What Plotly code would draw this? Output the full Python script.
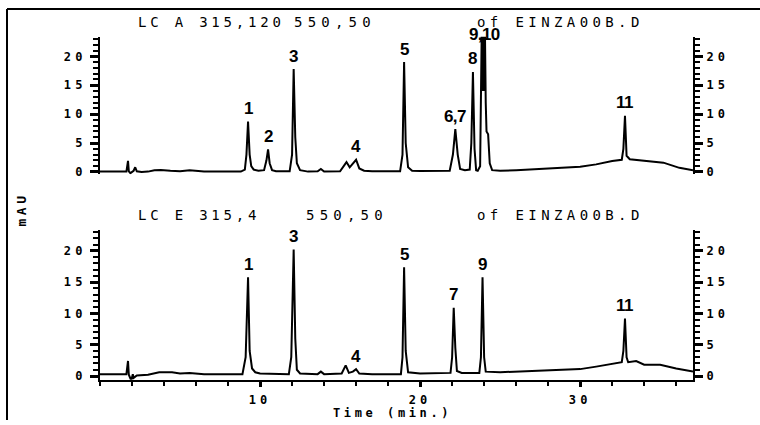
import plotly.graph_objects as go

# ---- chromatogram A (315 nm) : time [min], absorbance [mAU] ----
time_a = [0, 1.65, 1.75, 1.8, 1.9, 2.1, 2.2, 2.3, 2.6, 3.0, 3.4, 3.8, 4.4, 5.0, 5.6, 6.0, 6.5,
          8.8, 9.05, 9.15, 9.25, 9.35, 9.45, 9.6, 9.9, 10.25, 10.4, 10.5, 10.6, 10.75, 11.0,
          11.85, 12.0, 12.1, 12.2, 12.3, 12.5, 13.0, 13.6, 13.8, 14.0, 15.0, 15.25, 15.4, 15.6,
          15.8, 16.0, 16.2, 16.5, 17.0, 18.75, 18.9, 19.0, 19.1, 19.25, 19.5, 20.0, 21.85, 22.05,
          22.2, 22.35, 22.5, 22.8, 23.1, 23.2, 23.3, 23.4, 23.5, 23.6, 23.75, 23.85, 23.9, 23.95,
          24.0, 24.05, 24.1, 24.15, 24.25, 24.35, 24.5, 25.0, 26.0, 28.0, 30.0, 31.0, 32.0, 32.6,
          32.7, 32.8, 32.9, 33.1, 34.0, 34.6, 35.2, 36.2, 37.05]
mau_a = [0.05, 0.05, 1.9, 0.1, -0.2, 0.2, 0.8, 0.1, 0.0, 0.05, 0.3, 0.35, 0.2, 0.1, 0.3, 0.15, 0.05,
         0.05, 0.4, 3.0, 8.7, 3.0, 1.0, 0.4, 0.2, 0.3, 2.0, 3.9, 1.5, 0.3, 0.1,
         0.1, 3.0, 17.8, 6.0, 1.5, 0.3, 0.05, 0.1, 0.5, 0.05, 0.1, 1.2, 1.7, 0.8,
         1.5, 2.1, 0.6, 0.2, 0.1, 0.1, 3.0, 19.0, 5.0, 0.8, 0.2, 0.15, 0.2, 3.0,
         7.4, 3.0, 0.5, 0.3, 0.4, 5.0, 17.3, 4.0, 0.3, 0.2, 1.0, 24.5, 14.0, 24.5,
         14.0, 24.5, 12.0, 7.0, 6.5, 1.5, 0.3, 0.2, 0.3, 0.6, 0.9, 1.3, 1.9, 2.1,
         4.0, 9.7, 2.8, 2.2, 1.9, 1.7, 1.6, 0.7, 0.3]

# ---- chromatogram E (315 nm) ----
time_e = [0, 1.65, 1.75, 1.8, 1.95, 2.05, 2.1, 2.3, 3.0, 3.7, 4.5, 5.0, 5.6, 6.5,
          8.9, 9.1, 9.25, 9.35, 9.5, 9.7, 10.0, 11.8, 11.95, 12.1, 12.2, 12.3, 12.5,
          13.6, 13.8, 14.0, 15.1, 15.35, 15.55, 15.8, 16.0, 16.2, 17.0, 18.8, 18.9,
          19.0, 19.1, 19.25, 20.0, 21.9, 22.0, 22.1, 22.2, 22.3, 22.6, 23.7, 23.8,
          23.9, 24.0, 24.1, 25.0, 27.0, 28.5, 30.0, 31.0, 32.0, 32.6, 32.7, 32.8,
          32.9, 33.0, 33.5, 34.0, 35.0, 36.0, 37.05]
mau_e = [0.3, 0.3, 2.4, 0.2, -0.7, 0.3, -0.3, 0.1, 0.2, 0.6, 0.6, 0.4, 0.5, 0.3,
         0.3, 3.0, 15.8, 4.0, 1.2, 0.6, 0.4, 0.3, 3.0, 20.2, 6.0, 1.0, 0.4,
         0.3, 0.7, 0.3, 0.4, 1.7, 0.5, 0.7, 1.1, 0.4, 0.3, 0.3, 3.0,
         17.4, 4.0, 0.6, 0.4, 0.5, 3.0, 10.9, 4.5, 0.8, 0.5, 0.5, 3.0,
         15.8, 3.0, 0.7, 0.6, 0.8, 1.0, 1.1, 1.5, 1.9, 2.2, 4.0, 9.2,
         3.0, 2.2, 2.4, 1.8, 1.8, 1.2, 0.7]

# ---- peak numbering ----
peaks_a = ["1", "2", "3", "4", "5", "6,7", "8", "9,10", "11"]
peak_t_a = [9.25, 10.5, 12.1, 16.0, 19.0, 22.2, 23.3, 24.0, 32.8]
peaks_e = ["1", "3", "4", "5", "7", "9", "11"]
peak_t_e = [9.25, 12.1, 16.0, 19.0, 22.1, 23.9, 32.8]

# ---- axis ticks, labels and headers ----
y_ticks = [0, 5, 10, 15, 20]
y_minor = list(range(0, 24))
x_ticks = [10, 20, 30]
x_minor = list(range(0, 38, 2))
header_a = ["LC A 315,120", "550,50", "of EINZA00B.D"]
header_e = ["LC E 315,4", "550,50", "of EINZA00B.D"]

W, H = 760, 425
X_RANGE = [0, 37.05]
YA_RANGE = [-0.4, 23.4]
YE_RANGE = [-0.6, 23.3]
MONO = "DejaVu Sans Mono, monospace"
NUMFONT = "Liberation Sans Narrow, Liberation Sans, Arial, sans-serif"


def spaced(s, px):
    return f'<span style="letter-spacing:{px}px">{s}</span>'


def px_x(px):
    return px / W


def px_y(px):
    return 1 - px / H


def labelled(ticks, majors):
    # every tick gets a mark, only the major ones get a label
    return [spaced(f"<b>{v}</b>", 4.2) if v in majors else "" for v in ticks]


fig = go.Figure()
line = dict(color="black", width=2)
fig.add_trace(go.Scatter(x=time_a, y=mau_a, mode="lines", line=line, xaxis="x", yaxis="y",
                         showlegend=False, hoverinfo="skip"))
fig.add_trace(go.Scatter(x=time_e, y=mau_e, mode="lines", line=line, xaxis="x2", yaxis="y3",
                         showlegend=False, hoverinfo="skip"))
# empty traces so the mirror / major-tick overlay axes are instantiated
for xa, ya in (("x", "y2"), ("x2", "y4"), ("x", "y5"), ("x", "y6"), ("x2", "y7"), ("x2", "y8"),
               ("x3", "y3")):
    fig.add_trace(go.Scatter(x=[], y=[], xaxis=xa, yaxis=ya, showlegend=False,
                             hoverinfo="skip"))

x_dom = [px_x(100), px_x(693)]
ya_dom = [0.5852, 0.9127]
ye_dom = [0.0958, 0.4518]

tickfont = dict(family=MONO, size=12, color="black")


def base_y(dom, rng, anchor, side="left", overlay=None):
    d = dict(domain=dom, range=rng, anchor=anchor, side=side, showline=True, linewidth=2,
             linecolor="black", ticks="outside", ticklen=5, tickwidth=2, tickcolor="black",
             tickmode="array", tickvals=y_minor, ticktext=labelled(y_minor, y_ticks),
             ticklabelstandoff=4, tickfont=tickfont,
             showgrid=False, zeroline=False)
    if overlay:
        d["overlaying"] = overlay
    return d


def major_y(dom, rng, anchor, side, overlay):
    return dict(domain=dom, range=rng, anchor=anchor, side=side, overlaying=overlay,
                showline=False, ticks="outside", ticklen=9, tickwidth=2.5, tickcolor="black",
                tickmode="array", tickvals=y_ticks, showticklabels=False,
                showgrid=False, zeroline=False)


fig.update_layout(
    width=W, height=H, margin=dict(l=0, r=0, t=0, b=0),
    paper_bgcolor="white", plot_bgcolor="white",
    xaxis=dict(domain=x_dom, range=X_RANGE, anchor="y", showline=False, showticklabels=False,
               ticks="", showgrid=False, zeroline=False),
    xaxis2=dict(domain=x_dom, range=X_RANGE, anchor="y3", showline=True, linewidth=2,
                linecolor="black", ticks="outside", ticklen=4, tickwidth=2, tickcolor="black",
                tickmode="array", tickvals=x_minor, ticktext=labelled(x_minor, x_ticks),
                ticklabelstandoff=4, tickfont=tickfont, showgrid=False, zeroline=False),
    xaxis3=dict(domain=x_dom, range=X_RANGE, anchor="y3", overlaying="x2", side="bottom",
                showline=False, ticks="outside", ticklen=6, tickwidth=2.5, tickcolor="black",
                tickmode="array", tickvals=x_ticks, showticklabels=False,
                showgrid=False, zeroline=False),
    yaxis=base_y(ya_dom, YA_RANGE, "x"),
    yaxis2=base_y(ya_dom, YA_RANGE, "x", side="right", overlay="y"),
    yaxis3=base_y(ye_dom, YE_RANGE, "x2"),
    yaxis4=base_y(ye_dom, YE_RANGE, "x2", side="right", overlay="y3"),
    yaxis5=major_y(ya_dom, YA_RANGE, "x", "left", "y"),
    yaxis6=major_y(ya_dom, YA_RANGE, "x", "right", "y"),
    yaxis7=major_y(ye_dom, YE_RANGE, "x2", "left", "y3"),
    yaxis8=major_y(ye_dom, YE_RANGE, "x2", "right", "y3"),
)

ann = []


def peak_annots(labels, times, t, v, xref, yref, ymax):
    for lab, pt in zip(labels, times):
        top = max(val for tt, val in zip(t, v) if abs(tt - pt) <= 0.16)
        clipped = top > ymax
        ann.append(dict(x=pt, y=min(top, ymax), xref=xref, yref=yref,
                        text=spaced(lab, -0.6), showarrow=False,
                        xanchor="center", yanchor="middle", yshift=2 if clipped else 13,
                        font=dict(family=NUMFONT, size=17, color="black", weight="bold")))


peak_annots(peaks_a, peak_t_a, time_a, mau_a, "x", "y", YA_RANGE[1])
peak_annots(peaks_e, peak_t_e, time_e, mau_e, "x2", "y3", YE_RANGE[1])

hfont = dict(family=MONO, size=14, color="black")
for texts, ypx, xs in ((header_a, 22, (136, 292, 475)), (header_e, 218, (136, 304, 475))):
    for txt, xpx, ls in zip(texts, xs, (3.8, 5.2, 4.4)):
        ann.append(dict(x=px_x(xpx), y=px_y(ypx), xref="paper", yref="paper",
                        text=spaced(txt, ls), showarrow=False,
                        xanchor="left", yanchor="middle", font=hfont))

ann.append(dict(x=px_x(392), y=px_y(418), xref="paper", yref="paper",
                text=spaced("<b>Time (min.)</b>", 3.6), showarrow=False,
                xanchor="center", yanchor="middle",
                font=dict(family=MONO, size=12, color="black")))
ann.append(dict(x=px_x(22), y=px_y(212), xref="paper", yref="paper",
                text=spaced("<b>mAU</b>", 3.5), textangle=-90, showarrow=False,
                xanchor="center", yanchor="middle",
                font=dict(family=MONO, size=13, color="black")))
fig.update_layout(annotations=ann)

# outer frame (top and left edges)
fig.add_shape(type="line", xref="paper", yref="paper", x0=px_x(7), x1=1, y0=px_y(9), y1=px_y(9),
              line=dict(color="black", width=2))
fig.add_shape(type="line", xref="paper", yref="paper", x0=px_x(7), x1=px_x(7), y0=px_y(9), y1=0,
              line=dict(color="black", width=2))

fig.write_html("out.html")
